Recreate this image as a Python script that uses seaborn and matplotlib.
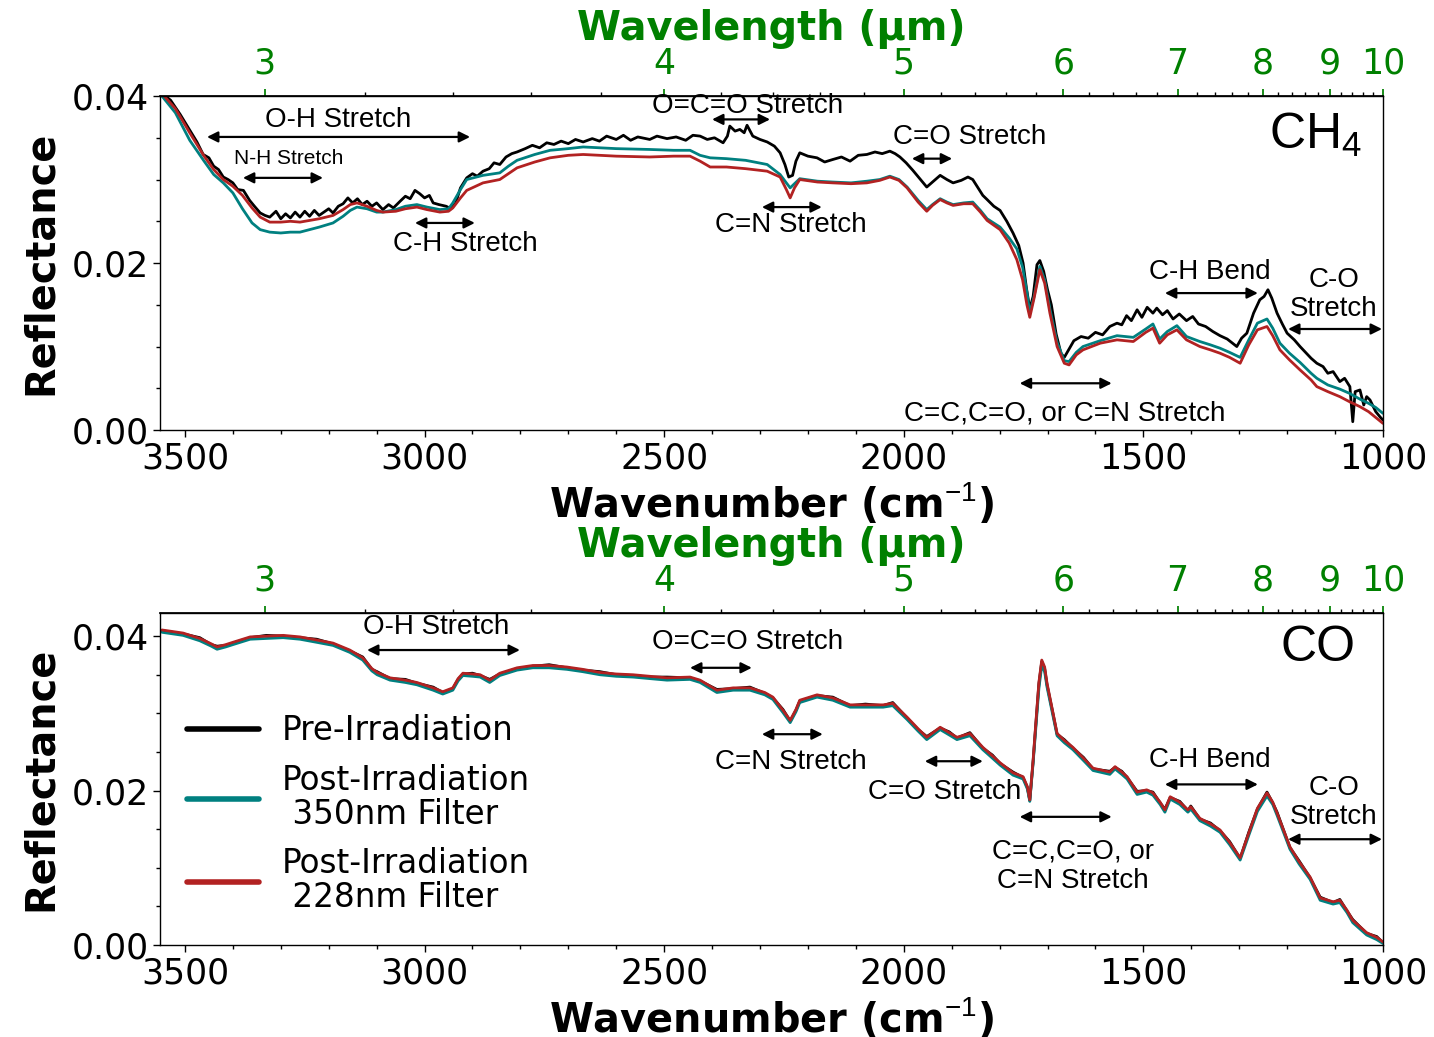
import numpy as np
import pandas as pd
import matplotlib
matplotlib.use("Agg")
import matplotlib.pyplot as plt
from matplotlib.ticker import MultipleLocator, FixedLocator, FormatStrFormatter
from matplotlib.lines import Line2D
import seaborn as sns

# ---------------- data ----------------
# CH4 panel, Pre-Irradiation (own x grid, noisy)
ch4_pre_wn = [3548, 3530, 3510, 3490, 3475, 3462, 3450, 3440, 3430, 3420, 3410, 3400, 3390, 3378, 3365, 3355, 3343, 3333, 3323,
              3310, 3300, 3290, 3280, 3270, 3260, 3250, 3240, 3230, 3220, 3210, 3200, 3191, 3180, 3170, 3160, 3150, 3140, 3130,
              3120, 3110, 3100, 3087, 3075, 3065, 3051, 3040, 3030, 3020, 3010, 3000, 2990, 2982, 2970, 2955, 2945, 2935, 2925,
              2912, 2900, 2890, 2878, 2865, 2855, 2843, 2830, 2818, 2807, 2790, 2775, 2760, 2745, 2730, 2715, 2700, 2685, 2669,
              2650, 2635, 2620, 2600, 2585, 2570, 2555, 2530, 2515, 2494, 2475, 2455, 2440, 2425, 2410, 2395, 2377, 2368, 2363,
              2352, 2342, 2333, 2327, 2315, 2300, 2285, 2270, 2258, 2248, 2240, 2232, 2225, 2217, 2200, 2181, 2165, 2148, 2130,
              2112, 2095, 2077, 2060, 2045, 2029, 2018, 2008, 1995, 1981, 1965, 1952, 1940, 1924, 1910, 1897, 1880, 1866, 1856,
              1845, 1835, 1826, 1812, 1799, 1785, 1772, 1760, 1751, 1744, 1737, 1730, 1722, 1716, 1708, 1700, 1692, 1682, 1672,
              1665, 1655, 1645, 1630, 1615, 1600, 1585, 1570, 1555, 1545, 1535, 1525, 1513, 1503, 1492, 1480, 1472, 1460, 1450,
              1438, 1425, 1410, 1397, 1385, 1370, 1355, 1340, 1325, 1305, 1295, 1284, 1270, 1257, 1248, 1240, 1232, 1221, 1210,
              1200, 1185, 1173, 1160, 1150, 1138, 1125, 1115, 1104, 1090, 1080, 1069, 1063, 1058, 1048, 1040, 1034, 1027, 1015,
              1005, 1000]
ch4_pre = [0.0403, 0.0395, 0.0378, 0.0359, 0.0345, 0.0330, 0.0326, 0.0316, 0.0312, 0.0303, 0.0300, 0.0296, 0.0288, 0.0287,
           0.0275, 0.0268, 0.0260, 0.0257, 0.0255, 0.0262, 0.0253, 0.0259, 0.0254, 0.0261, 0.0255, 0.0262, 0.0256, 0.0263,
           0.0257, 0.0261, 0.0265, 0.0260, 0.0268, 0.0271, 0.0278, 0.0272, 0.0277, 0.0270, 0.0274, 0.0268, 0.0272, 0.0264,
           0.0270, 0.0266, 0.0274, 0.0280, 0.0277, 0.0287, 0.0283, 0.0278, 0.0281, 0.0272, 0.0270, 0.0268, 0.0265, 0.0272,
           0.0290, 0.0302, 0.0307, 0.0304, 0.0310, 0.0313, 0.0320, 0.0318, 0.0327, 0.0331, 0.0333, 0.0337, 0.0341, 0.0338,
           0.0344, 0.0342, 0.0346, 0.0343, 0.0348, 0.0345, 0.0349, 0.0346, 0.0352, 0.0348, 0.0353, 0.0347, 0.0351, 0.0348,
           0.0352, 0.0349, 0.0351, 0.0347, 0.0353, 0.0352, 0.0348, 0.0350, 0.0344, 0.0352, 0.0364, 0.0358, 0.0360, 0.0356,
           0.0365, 0.0352, 0.0348, 0.0345, 0.0340, 0.0332, 0.0318, 0.0303, 0.0305, 0.0322, 0.0332, 0.0328, 0.0326, 0.0321,
           0.0324, 0.0327, 0.0322, 0.0329, 0.0330, 0.0333, 0.0331, 0.0334, 0.0331, 0.0327, 0.0320, 0.0311, 0.0300, 0.0291,
           0.0297, 0.0305, 0.0300, 0.0296, 0.0299, 0.0303, 0.0300, 0.0290, 0.0281, 0.0276, 0.0268, 0.0263, 0.0250, 0.0236,
           0.0221, 0.0200, 0.0170, 0.0145, 0.0160, 0.0198, 0.0203, 0.0190, 0.0168, 0.0150, 0.0115, 0.0092, 0.0087, 0.0097,
           0.0107, 0.0112, 0.0110, 0.0117, 0.0114, 0.0124, 0.0128, 0.0126, 0.0137, 0.0131, 0.0144, 0.0135, 0.0147, 0.0140,
           0.0146, 0.0138, 0.0143, 0.0133, 0.0139, 0.0131, 0.0136, 0.0127, 0.0124, 0.0118, 0.0113, 0.0109, 0.0100, 0.0110,
           0.0116, 0.0140, 0.0156, 0.0160, 0.0168, 0.0158, 0.0140, 0.0127, 0.0116, 0.0108, 0.0100, 0.0092, 0.0086, 0.0080,
           0.0076, 0.0068, 0.0070, 0.0058, 0.0062, 0.0052, 0.0010, 0.0046, 0.0048, 0.0030, 0.0040, 0.0036, 0.0022, 0.0015,
           0.0012]

# CH4 panel, post-irradiation spectra (shared x grid)
ch4_post_wn = [3548, 3520, 3490, 3460, 3440, 3420, 3400, 3380, 3360, 3343, 3323, 3300, 3280, 3260, 3240, 3220, 3191, 3170,
               3155, 3141, 3120, 3100, 3087, 3060, 3040, 3016, 2995, 2968, 2950, 2941, 2925, 2912, 2878, 2843, 2825, 2807,
               2770, 2738, 2700, 2669, 2600, 2530, 2480, 2446, 2425, 2404, 2370, 2330, 2285, 2258, 2245, 2237, 2228, 2217,
               2180, 2148, 2110, 2077, 2050, 2029, 2010, 1993, 1970, 1952, 1940, 1924, 1910, 1897, 1875, 1856, 1840, 1826,
               1799, 1780, 1764, 1752, 1743, 1737, 1728, 1716, 1706, 1695, 1680, 1665, 1655, 1640, 1626, 1590, 1555, 1521,
               1495, 1480, 1466, 1450, 1430, 1410, 1382, 1360, 1340, 1320, 1298, 1280, 1262, 1242, 1230, 1215, 1195, 1173,
               1150, 1138, 1115, 1090, 1070, 1048, 1030, 1015, 1000]
ch4_350 = [0.0400, 0.0380, 0.0347, 0.0322, 0.0306, 0.0296, 0.0284, 0.0265, 0.0248, 0.0240, 0.0237, 0.0236, 0.0237, 0.0237,
           0.0240, 0.0243, 0.0248, 0.0256, 0.0263, 0.0267, 0.0265, 0.0261, 0.0261, 0.0264, 0.0268, 0.0270, 0.0267, 0.0264,
           0.0265, 0.0272, 0.0288, 0.0300, 0.0305, 0.0308, 0.0316, 0.0323, 0.0330, 0.0335, 0.0337, 0.0339, 0.0337, 0.0336,
           0.0335, 0.0335, 0.0329, 0.0326, 0.0325, 0.0323, 0.0318, 0.0306, 0.0296, 0.0290, 0.0295, 0.0301, 0.0298, 0.0297,
           0.0296, 0.0298, 0.0300, 0.0304, 0.0300, 0.0291, 0.0275, 0.0264, 0.0270, 0.0277, 0.0273, 0.0270, 0.0272, 0.0273,
           0.0263, 0.0253, 0.0243, 0.0230, 0.0217, 0.0195, 0.0165, 0.0140, 0.0160, 0.0196, 0.0180, 0.0145, 0.0105, 0.0083,
           0.0082, 0.0093, 0.0100, 0.0107, 0.0113, 0.0111, 0.0121, 0.0127, 0.0109, 0.0118, 0.0125, 0.0112, 0.0106, 0.0102,
           0.0098, 0.0093, 0.0087, 0.0108, 0.0128, 0.0133, 0.0122, 0.0104, 0.0092, 0.0081, 0.0068, 0.0062, 0.0054, 0.0049,
           0.0044, 0.0037, 0.0032, 0.0027, 0.0020]
ch4_228 = [0.0403, 0.0385, 0.0356, 0.0328, 0.0312, 0.0300, 0.0292, 0.0281, 0.0266, 0.0255, 0.0249, 0.0249, 0.0250, 0.0249,
           0.0251, 0.0253, 0.0257, 0.0264, 0.0270, 0.0272, 0.0268, 0.0263, 0.0261, 0.0262, 0.0265, 0.0267, 0.0264, 0.0261,
           0.0262, 0.0266, 0.0278, 0.0287, 0.0296, 0.0300, 0.0307, 0.0314, 0.0321, 0.0326, 0.0329, 0.0330, 0.0328, 0.0327,
           0.0328, 0.0328, 0.0322, 0.0315, 0.0315, 0.0313, 0.0310, 0.0303, 0.0288, 0.0278, 0.0290, 0.0300, 0.0297, 0.0296,
           0.0295, 0.0296, 0.0299, 0.0303, 0.0299, 0.0290, 0.0273, 0.0262, 0.0269, 0.0276, 0.0272, 0.0269, 0.0271, 0.0271,
           0.0261, 0.0251, 0.0240, 0.0224, 0.0204, 0.0180, 0.0150, 0.0135, 0.0158, 0.0192, 0.0176, 0.0140, 0.0100, 0.0080,
           0.0078, 0.0090, 0.0096, 0.0104, 0.0108, 0.0106, 0.0117, 0.0122, 0.0104, 0.0114, 0.0120, 0.0108, 0.0100, 0.0096,
           0.0092, 0.0087, 0.0080, 0.0102, 0.0120, 0.0124, 0.0113, 0.0096, 0.0084, 0.0072, 0.0060, 0.0052, 0.0046, 0.0040,
           0.0034, 0.0028, 0.0022, 0.0015, 0.0008]

# CO panel (shared x grid for all three spectra)
co_wn = [3548, 3504, 3469, 3445, 3433, 3415, 3400, 3364, 3330, 3295, 3260, 3225, 3191, 3156, 3129, 3110, 3099, 3072, 3040,
         3016, 2982, 2962, 2941, 2930, 2920, 2900, 2884, 2864, 2843, 2807, 2774, 2740, 2703, 2670, 2634, 2600, 2565, 2530,
         2494, 2446, 2425, 2390, 2356, 2321, 2290, 2273, 2252, 2237, 2225, 2217, 2181, 2148, 2112, 2080, 2043, 2023, 1993,
         1970, 1952, 1924, 1905, 1889, 1862, 1835, 1815, 1799, 1772, 1751, 1742, 1737, 1730, 1726, 1718, 1712, 1706, 1701,
         1690, 1680, 1665, 1647, 1625, 1605, 1570, 1559, 1545, 1534, 1513, 1493, 1480, 1465, 1455, 1444, 1424, 1407, 1401,
         1382, 1360, 1340, 1320, 1298, 1280, 1262, 1242, 1230, 1221, 1194, 1175, 1152, 1131, 1104, 1090, 1075, 1063, 1034,
         1013, 1000]
co_pre = [0.0407, 0.0403, 0.0398, 0.0389, 0.0387, 0.0388, 0.0391, 0.0398, 0.0401, 0.0400, 0.0398, 0.0396, 0.0390, 0.0381,
          0.0373, 0.0357, 0.0354, 0.0345, 0.0344, 0.0339, 0.0334, 0.0327, 0.0332, 0.0344, 0.0351, 0.0352, 0.0349, 0.0344,
          0.0351, 0.0358, 0.0361, 0.0363, 0.0359, 0.0356, 0.0354, 0.0350, 0.0349, 0.0347, 0.0347, 0.0346, 0.0342, 0.0331,
          0.0332, 0.0334, 0.0326, 0.0320, 0.0305, 0.0290, 0.0304, 0.0316, 0.0323, 0.0321, 0.0310, 0.0312, 0.0310, 0.0314,
          0.0294, 0.0279, 0.0270, 0.0281, 0.0276, 0.0268, 0.0275, 0.0255, 0.0246, 0.0235, 0.0224, 0.0217, 0.0204, 0.0187,
          0.0238, 0.0272, 0.0338, 0.0367, 0.0358, 0.0337, 0.0304, 0.0273, 0.0266, 0.0255, 0.0243, 0.0228, 0.0225, 0.0230,
          0.0225, 0.0217, 0.0199, 0.0200, 0.0198, 0.0184, 0.0176, 0.0191, 0.0186, 0.0174, 0.0180, 0.0163, 0.0158, 0.0148,
          0.0134, 0.0112, 0.0146, 0.0176, 0.0198, 0.0184, 0.0172, 0.0126, 0.0109, 0.0087, 0.0062, 0.0055, 0.0059, 0.0044,
          0.0033, 0.0015, 0.0011, 0.0003]
co_350 = [0.0405, 0.0401, 0.0394, 0.0387, 0.0383, 0.0386, 0.0389, 0.0396, 0.0397, 0.0398, 0.0396, 0.0392, 0.0388, 0.0379,
          0.0369, 0.0355, 0.0350, 0.0343, 0.0340, 0.0337, 0.0330, 0.0325, 0.0330, 0.0342, 0.0349, 0.0348, 0.0347, 0.0340,
          0.0349, 0.0356, 0.0359, 0.0359, 0.0357, 0.0354, 0.0350, 0.0348, 0.0347, 0.0345, 0.0343, 0.0344, 0.0340, 0.0327,
          0.0330, 0.0330, 0.0324, 0.0318, 0.0301, 0.0288, 0.0302, 0.0314, 0.0321, 0.0317, 0.0308, 0.0308, 0.0308, 0.0310,
          0.0292, 0.0277, 0.0266, 0.0279, 0.0272, 0.0266, 0.0271, 0.0253, 0.0242, 0.0233, 0.0220, 0.0215, 0.0202, 0.0186,
          0.0236, 0.0268, 0.0332, 0.0362, 0.0354, 0.0334, 0.0301, 0.0271, 0.0262, 0.0253, 0.0239, 0.0226, 0.0221, 0.0228,
          0.0221, 0.0215, 0.0195, 0.0198, 0.0194, 0.0182, 0.0172, 0.0189, 0.0182, 0.0172, 0.0176, 0.0161, 0.0154, 0.0146,
          0.0130, 0.0110, 0.0142, 0.0173, 0.0193, 0.0182, 0.0168, 0.0124, 0.0105, 0.0085, 0.0058, 0.0053, 0.0055, 0.0042,
          0.0029, 0.0013, 0.0007, 0.0002]
co_228 = [0.0408, 0.0404, 0.0397, 0.0390, 0.0386, 0.0389, 0.0392, 0.0399, 0.0400, 0.0401, 0.0399, 0.0395, 0.0391, 0.0382,
          0.0372, 0.0358, 0.0353, 0.0346, 0.0343, 0.0340, 0.0333, 0.0328, 0.0333, 0.0345, 0.0352, 0.0351, 0.0350, 0.0343,
          0.0352, 0.0359, 0.0362, 0.0362, 0.0360, 0.0357, 0.0353, 0.0351, 0.0350, 0.0348, 0.0346, 0.0347, 0.0343, 0.0330,
          0.0333, 0.0333, 0.0327, 0.0321, 0.0304, 0.0291, 0.0305, 0.0317, 0.0324, 0.0320, 0.0311, 0.0311, 0.0311, 0.0313,
          0.0295, 0.0280, 0.0269, 0.0282, 0.0275, 0.0269, 0.0274, 0.0256, 0.0245, 0.0236, 0.0223, 0.0218, 0.0205, 0.0188,
          0.0240, 0.0274, 0.0340, 0.0369, 0.0360, 0.0339, 0.0305, 0.0274, 0.0265, 0.0256, 0.0242, 0.0229, 0.0224, 0.0231,
          0.0224, 0.0218, 0.0198, 0.0201, 0.0197, 0.0185, 0.0175, 0.0192, 0.0185, 0.0175, 0.0179, 0.0164, 0.0157, 0.0149,
          0.0133, 0.0113, 0.0145, 0.0177, 0.0197, 0.0185, 0.0171, 0.0127, 0.0108, 0.0088, 0.0061, 0.0056, 0.0058, 0.0045,
          0.0032, 0.0016, 0.0010, 0.0004]

series_labels = ["Pre-Irradiation", "Post-Irradiation\n 350nm Filter", "Post-Irradiation\n 228nm Filter"]
series_colors = ["black", "#008080", "#b22222"]

wl_major = [3, 4, 5, 6, 7, 8, 9, 10]

# annotations: (text, text_x, text_y, arrow_x1, arrow_x2, arrow_y, fontsize)
ch4_notes = [
    ("O-H Stretch", 3181, 0.0371, 3454, 2905, 0.0351, 20),
    ("N-H Stretch", 3283, 0.0325, 3379, 3212, 0.0302, 15),
    ("C-H Stretch", 2914, 0.0223, 3020, 2895, 0.0248, 20),
    ("O=C=O Stretch", 2325, 0.0388, 2400, 2279, 0.0372, 20),
    ("C=O Stretch", 1862, 0.0351, 1983, 1899, 0.0325, 20),
    ("C=N Stretch", 2235, 0.0246, 2296, 2171, 0.0267, 20),
    ("C-H Bend", 1361, 0.0189, 1455, 1261, 0.0164, 20),
    ("C-O\nStretch", 1102, 0.0162, 1198, 1002, 0.0121, 20),
    ("C=C,C=O, or C=N Stretch", 1664, 0.0020, 1758, 1566, 0.0056, 20),
]
co_notes = [
    ("O-H Stretch", 2976, 0.0412, 3120, 2801, 0.0382, 20),
    ("O=C=O Stretch", 2325, 0.0392, 2446, 2317, 0.0359, 20),
    ("C=N Stretch", 2235, 0.0237, 2296, 2169, 0.0273, 20),
    ("C=O Stretch", 1914, 0.0198, 1956, 1835, 0.0238, 20),
    ("C=C,C=O, or\nC=N Stretch", 1647, 0.0102, 1758, 1566, 0.0166, 20),
    ("C-H Bend", 1361, 0.0240, 1455, 1261, 0.0208, 20),
    ("C-O\nStretch", 1102, 0.0184, 1198, 1002, 0.0137, 20),
]

# ---------------- styling ----------------
sns.set_theme(style="ticks")
plt.rcParams["font.family"] = ["DejaVu Sans"]
plt.rcParams["text.color"] = "black"
plt.rcParams["axes.labelcolor"] = "black"
plt.rcParams["xtick.color"] = "black"
plt.rcParams["ytick.color"] = "black"
plt.rcParams["axes.edgecolor"] = "black"
plt.rcParams["mathtext.fontset"] = "custom"
plt.rcParams["mathtext.rm"] = "Liberation Sans"
plt.rcParams["mathtext.it"] = "Liberation Sans:italic"
plt.rcParams["mathtext.bf"] = "Liberation Sans:bold"

ANN_FONT = ["Liberation Sans", "DejaVu Sans"]
GREEN = "#008000"
LABEL_FS = 28.7

fig = plt.figure(figsize=(14.34, 10.37), dpi=100)
ax1 = fig.add_axes([0.1116, 0.5853, 0.8528, 0.3221])
ax2 = fig.add_axes([0.1116, 0.0887, 0.8528, 0.3202])


def inv(x):
    x = np.asarray(x, dtype=float)
    with np.errstate(divide="ignore", invalid="ignore"):
        return 1e4 / x


def draw_panel(ax, frames, ymax, notes, name, name_xy):
    for df, col in frames:
        sns.lineplot(data=df, x="wn", y="r", color=col, lw=2, ax=ax,
                     estimator=None, sort=False, legend=False)
    ax.set_xlim(3552, 1000)
    ax.set_ylim(0, ymax)
    ax.xaxis.set_major_locator(FixedLocator([3500, 3000, 2500, 2000, 1500, 1000]))
    ax.xaxis.set_minor_locator(MultipleLocator(100))
    ax.yaxis.set_major_locator(FixedLocator([0.0, 0.02, 0.04]))
    ax.yaxis.set_minor_locator(FixedLocator(np.arange(0, 0.0401, 0.005)))
    ax.yaxis.set_major_formatter(FormatStrFormatter("%.2f"))
    ax.tick_params(axis="both", which="major", labelsize=25, length=5, width=1, direction="out", pad=3,
                   color="black", labelcolor="black")
    ax.tick_params(axis="both", which="minor", length=3, width=1, direction="out", color="black")
    ax.set_xlabel("Wavenumber (cm$^{-1}$)", fontsize=LABEL_FS, fontweight="bold", labelpad=4, color="black")
    ax.set_ylabel("Reflectance", fontsize=LABEL_FS, fontweight="bold", labelpad=8, color="black")
    for s in ax.spines.values():
        s.set_visible(True)
        s.set_linewidth(1.0)
        s.set_color("black")

    sec = ax.secondary_xaxis("top", functions=(inv, inv))
    sec.set_xticks(wl_major)
    sec.set_xticklabels([str(v) for v in wl_major])
    minors = [round(v, 1) for v in np.arange(3.0, 10.01, 0.2) if abs(v - round(v)) > 0.05]
    sec.xaxis.set_minor_locator(FixedLocator(minors))
    sec.tick_params(axis="x", which="major", color=GREEN, labelcolor=GREEN, labelsize=25, length=5, pad=6)
    sec.tick_params(axis="x", which="minor", color="black", length=3)
    sec.set_xlabel("Wavelength (µm)", color=GREEN, fontsize=LABEL_FS, fontweight="bold", labelpad=5)

    for txt, tx, ty, a1, a2, ay, fs in notes:
        ax.annotate("", xy=(a1, ay), xytext=(a2, ay),
                    arrowprops=dict(arrowstyle="<|-|>", color="black", lw=1.6,
                                    mutation_scale=16, shrinkA=0, shrinkB=0))
        ax.text(tx, ty, txt, ha="center", va="center", fontsize=fs, family=ANN_FONT,
                linespacing=1.15, color="black")
    ax.text(name_xy[0], name_xy[1], name, ha="center", va="center", fontsize=36, family=ANN_FONT, color="black")


top_frames = [
    (pd.DataFrame({"wn": ch4_pre_wn, "r": ch4_pre}), series_colors[0]),
    (pd.DataFrame({"wn": ch4_post_wn, "r": ch4_350}), series_colors[1]),
    (pd.DataFrame({"wn": ch4_post_wn, "r": ch4_228}), series_colors[2]),
]
bot_frames = [
    (pd.DataFrame({"wn": co_wn, "r": co_pre}), series_colors[0]),
    (pd.DataFrame({"wn": co_wn, "r": co_350}), series_colors[1]),
    (pd.DataFrame({"wn": co_wn, "r": co_228}), series_colors[2]),
]

draw_panel(ax1, top_frames, 0.040, ch4_notes, "CH$_4$", (1140, 0.0353))
draw_panel(ax2, bot_frames, 0.043, co_notes, "CO", (1136, 0.0384))

handles = [Line2D([0], [0], color=c, lw=4) for c in series_colors]
leg = ax2.legend(handles, series_labels, loc="upper left", bbox_to_anchor=(0.022, 0.695),
                 frameon=False, fontsize=23.5, handlelength=2.2, handletextpad=0.7,
                 borderpad=0, borderaxespad=0, labelspacing=0.5)
for t in leg.get_texts():
    t.set_color("black")
    t.set_linespacing(1.05)

fig.savefig("out.png", dpi=100)
